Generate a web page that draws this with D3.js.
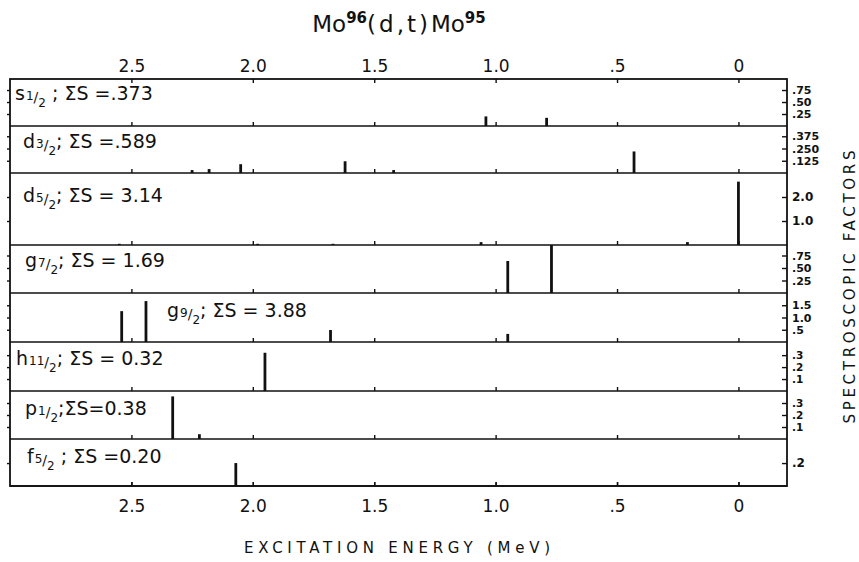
<!DOCTYPE html>
<html>
<head>
<meta charset="utf-8">
<script src="https://cdn.jsdelivr.net/npm/d3@7/dist/d3.min.js"></script>
<style>
  body { margin: 0; background: #fff; }
  svg text { font-family: "DejaVu Sans", sans-serif; fill: #111; }
  .tick line { stroke: #111; stroke-width: 1.4; }
</style>
</head>
<body>
<svg id="chart" width="859" height="562"></svg>
<script>
// excitation energy axis (MeV)
const energyTicks = [2.5, 2.0, 1.5, 1.0, 0.5, 0];
const energyLabels = ["2.5", "2.0", "1.5", "1.0", ".5", "0"];

// one row per orbital
const orbitals = ["s", "d", "d", "g", "g", "h", "p", "f"];
const spins = [["1", "2"], ["3", "2"], ["5", "2"], ["7", "2"], ["9", "2"], ["11", "2"], ["1", "2"], ["5", "2"]];
const sumTexts = [" ; ΣS =.373", "; ΣS =.589", "; ΣS = 3.14", "; ΣS = 1.69", "; ΣS = 3.88", "; ΣS = 0.32", ";ΣS=0.38", " ; ΣS =0.20"];
const sMax = [0.98, 0.48, 3.0, 0.96, 2.0, 0.41, 0.40, 0.41];
const sTicks = [[.25, .5, .75], [.125, .25, .375], [1, 2], [.25, .5, .75], [.5, 1, 1.5], [.1, .2, .3], [.1, .2, .3], [.2]];
const sTickLabels = [[".25", ".50", ".75"], [".125", ".250", ".375"], ["1.0", "2.0"], [".25", ".50", ".75"],
                     [".5", "1.0", "1.5"], [".1", ".2", ".3"], [".1", ".2", ".3"], [".2"]];

// levels: [energy MeV, spectroscopic factor]
const s12 = [[1.04, 0.20], [0.79, 0.17]];
const d32 = [[2.25, 0.03], [2.18, 0.04], [2.05, 0.09], [1.62, 0.12], [1.42, 0.03], [0.43, 0.22]];
const d52 = [[2.55, 0.05], [1.98, 0.05], [1.67, 0.05], [1.06, 0.12], [0.21, 0.12], [0.0, 2.64]];
const g72 = [[0.95, 0.64], [0.77, 1.05]];
const g92 = [[2.54, 1.26], [2.44, 1.67], [1.68, 0.49], [0.95, 0.33]];
const h112 = [[1.95, 0.32]];
const p12 = [[2.33, 0.355], [2.22, 0.04]];
const f52 = [[2.07, 0.20]];
const levels = [s12, d32, d52, g72, g92, h112, p12, f52];

// layout
const plotLeft = 10, plotRight = 787, plotTop = 79;
const panelH = [47, 47, 72, 48, 49, 49, 48, 47];
const labelX = [15, 23, 23, 25, 167, 16, 25, 27];
const labelDy = [21, 22, 29, 22, 24, 23, 24, 24];
const rightLabelSize = [11, 11, 12, 11, 11, 10.5, 10.5, 12];

const svg = d3.select('#chart');

const x = d3.scaleLinear().domain([3.0, -0.2]).range([plotLeft, plotRight]);

let tops = [];
let yAcc = plotTop;
panelH.forEach(h => { tops.push(yAcc); yAcc += h; });
const plotBottom = yAcc;

// panels
levels.forEach((rows, i) => {
    const pt = tops[i], pb = pt + panelH[i];
    const y = d3.scaleLinear().domain([0, sMax[i]]).range([pb, pt]).clamp(true);
    const g = svg.append('g');

    // small ticks on each divider
    g.append('g')
        .attr('transform', `translate(0,${pb})`)
        .call(d3.axisBottom(x).tickValues(energyTicks).tickSizeInner(-4).tickSizeOuter(0).tickFormat(''))
        .call(a => a.select('.domain').remove());

    g.append('g')
        .attr('transform', `translate(${plotLeft},0)`)
        .call(d3.axisLeft(y).tickValues(sTicks[i]).tickSizeInner(3).tickSizeOuter(0).tickFormat(''))
        .call(a => a.select('.domain').remove());

    g.append('g')
        .attr('transform', `translate(${plotRight},0)`)
        .call(d3.axisRight(y).tickValues(sTicks[i]).tickSizeInner(-5).tickSizeOuter(0).tickPadding(5)
            .tickFormat((d, k) => sTickLabels[i][k]))
        .call(a => a.select('.domain').remove())
        .selectAll('text')
        .attr('font-size', rightLabelSize[i]).attr('font-weight', 'bold').attr('fill', '#111');

    g.append('line')
        .attr('x1', plotLeft).attr('x2', plotRight)
        .attr('y1', pb).attr('y2', pb)
        .attr('stroke', '#111').attr('stroke-width', 1.6);

    g.selectAll('line.bar')
        .data(rows)
        .join('line')
        .classed('bar', true)
        .attr('x1', d => x(d[0])).attr('x2', d => x(d[0]))
        .attr('y1', y(0)).attr('y2', d => y(d[1]))
        .attr('stroke', '#111').attr('stroke-width', 2.8);

    // orbital label
    const t = g.append('text')
        .attr('x', labelX[i]).attr('y', pt + labelDy[i])
        .attr('font-size', 19);
    t.append('tspan').text(orbitals[i]);
    t.append('tspan').attr('font-size', 12).attr('dx', 1).text(spins[i][0]);
    t.append('tspan').attr('font-size', 14).attr('dy', 2).text('/');
    t.append('tspan').attr('font-size', 12).attr('dy', 5).text(spins[i][1]);
    t.append('tspan').attr('dy', -7).text(sumTexts[i]);
});

// frame
svg.append('rect')
    .attr('x', plotLeft).attr('y', plotTop)
    .attr('width', plotRight - plotLeft).attr('height', plotBottom - plotTop)
    .attr('fill', 'none').attr('stroke', '#111').attr('stroke-width', 1.8);

// top and bottom energy axes
svg.append('g')
    .attr('transform', `translate(0,${plotTop})`)
    .call(d3.axisTop(x).tickValues(energyTicks).tickSizeInner(-4).tickSizeOuter(0).tickPadding(7)
        .tickFormat((d, k) => energyLabels[k]))
    .call(a => a.select('.domain').remove())
    .selectAll('text').attr('font-size', 17).attr('fill', '#111');

svg.append('g')
    .attr('transform', `translate(0,${plotBottom})`)
    .call(d3.axisBottom(x).tickValues(energyTicks).tickSizeInner(-4).tickSizeOuter(0).tickPadding(14)
        .tickFormat((d, k) => energyLabels[k]))
    .call(a => a.select('.domain').remove())
    .selectAll('text').attr('font-size', 17).attr('fill', '#111');

// title
const title = svg.append('text')
    .attr('x', 399).attr('y', 32)
    .attr('text-anchor', 'middle')
    .attr('font-size', 23);
title.append('tspan').text('Mo');
title.append('tspan').attr('font-size', 15).attr('font-weight', 'bold').attr('dy', -9).text('96');
title.append('tspan').attr('dy', 9).attr('letter-spacing', 3).text('(d,t)');
title.append('tspan').text('Mo');
title.append('tspan').attr('font-size', 15).attr('font-weight', 'bold').attr('dy', -9).text('95');

// axis titles
svg.append('text')
    .attr('x', 397).attr('y', 553)
    .attr('text-anchor', 'middle')
    .attr('font-size', 15)
    .attr('textLength', 306).attr('lengthAdjust', 'spacing')
    .text('EXCITATION ENERGY (MeV)');

svg.append('text')
    .attr('transform', 'translate(855,287) rotate(-90)')
    .attr('text-anchor', 'middle')
    .attr('font-size', 15)
    .attr('textLength', 273).attr('lengthAdjust', 'spacing')
    .text('SPECTROSCOPIC  FACTORS');
</script>
</body>
</html>
